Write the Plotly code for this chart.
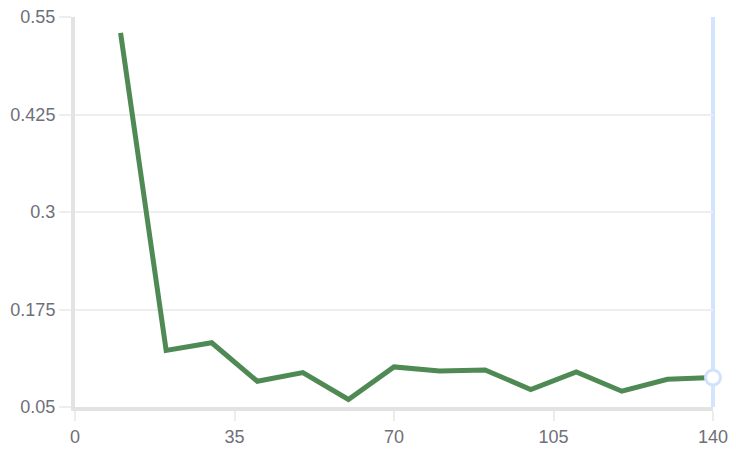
import plotly.graph_objects as go

x_values = [10, 20, 30, 40, 50, 60, 70, 80, 90, 100, 110, 120, 130, 140]
y_values = [0.5296, 0.1226, 0.1324, 0.083, 0.0941, 0.0596, 0.1014, 0.0963, 0.0975, 0.0724, 0.095, 0.0702, 0.0855, 0.0877]
x_ticks = [0, 35, 70, 105, 140]
y_ticks = [0.05, 0.175, 0.3, 0.425, 0.55]
y_tick_labels = ["0.05", "0.175", "0.3", "0.425", "0.55"]

x_range = [x_ticks[0], x_ticks[-1]]
hover_x_paper = (x_values[-1] - x_range[0]) / (x_range[1] - x_range[0])

fig = go.Figure()
fig.add_trace(go.Scatter(
    x=x_values, y=y_values, mode="lines",
    line=dict(color="#4f8a55", width=5),
    hoverinfo="skip", cliponaxis=False,
))
fig.add_trace(go.Scatter(
    x=[x_values[-1]], y=[y_values[-1]], mode="markers",
    marker=dict(size=15, color="white", line=dict(color="#d0e2fc", width=3)),
    hoverinfo="skip", cliponaxis=False,
))
# hover crosshair (paper ref so it is not clipped at the plot edge)
fig.add_shape(type="line", xref="paper", yref="paper",
              x0=hover_x_paper, x1=hover_x_paper, y0=0, y1=1,
              line=dict(color="#d3e4fd", width=4), layer="below")

fig.update_layout(
    width=736, height=457,
    margin=dict(l=75, r=23, t=17, b=50),
    paper_bgcolor="white", plot_bgcolor="white",
    showlegend=False,
    font=dict(family="Arial, Liberation Sans, sans-serif", size=18, color="#6e7079"),
    xaxis=dict(
        range=x_range, tickvals=x_ticks, showgrid=False, zeroline=False,
        showline=True, linewidth=4, linecolor="#e3e3e3", automargin=False,
        ticks="outside", ticklen=10, tickwidth=2, tickcolor="#ececec",
        tickfont=dict(size=18),
    ),
    yaxis=dict(
        range=[y_ticks[0], y_ticks[-1]], tickvals=y_ticks, ticktext=y_tick_labels,
        showgrid=True, gridcolor="#eeeeee", gridwidth=2, zeroline=False,
        showline=True, linewidth=4, linecolor="#e3e3e3", automargin=False,
        ticks="outside", ticklen=12, tickwidth=2, tickcolor="#eeeeee",
        tickfont=dict(size=18),
    ),
)

fig.write_html("out.html", config={"displayModeBar": False},
               post_script="document.body.style.margin='0';document.body.style.overflow='hidden';")
